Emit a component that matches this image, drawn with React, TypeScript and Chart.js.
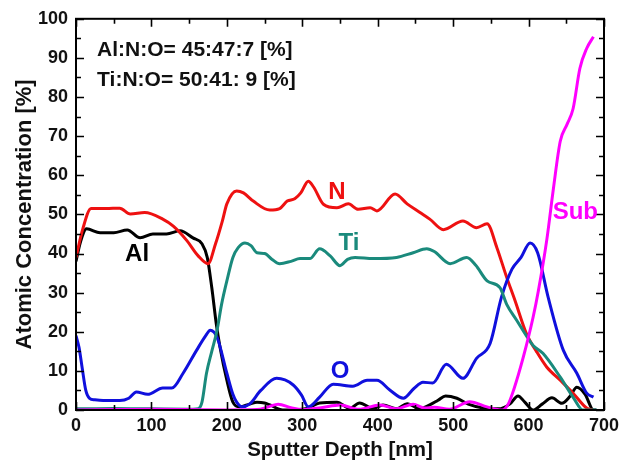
import React, { useEffect, useRef } from 'react';
import { Chart, registerables } from 'chart.js';

Chart.register(...registerables);

const FONT = '"Liberation Sans", Arial, Helvetica, sans-serif';

// ---- Data (sputter depth in nm, atomic concentration in %) ----
const nDepth = [0, 9, 20, 40, 58, 72, 91, 115, 129, 147, 162, 175, 185, 194, 200, 213, 222, 235, 257, 270, 280, 290, 298, 308, 315, 328, 346, 361, 374, 390, 399, 423, 439, 456, 469, 487, 513, 531, 545, 558, 571, 582, 597, 611, 624, 642, 659, 677, 685];
const nValues = [39, 46.3, 51.5, 51.5, 51.6, 50.1, 50.5, 48.8, 47, 43.3, 39.4, 37.4, 42.5, 48.3, 52.7, 56, 55.5, 53.4, 51.1, 51.5, 53.4, 54, 55.5, 58.5, 57, 52.6, 51.7, 52.7, 51.3, 51.7, 50.9, 55.2, 52.7, 50.5, 48.8, 46.1, 48.3, 46.6, 47.6, 41.5, 33.9, 28, 19.6, 14.8, 11, 7.6, 4.3, 0.5, 0];

const tiDepth = [0, 50, 100, 155, 162, 167, 173, 180, 187, 193, 200, 208, 215, 224, 232, 240, 250, 260, 270, 285, 297, 310, 323, 337, 350, 360, 370, 394, 425, 447, 465, 475, 496, 518, 530, 545, 562, 571, 584, 597, 606, 619, 642, 660, 672, 690];
const tiValues = [0.3, 0.4, 0.3, 0.2, 0.3, 2, 9.4, 15, 20.4, 27, 33, 39, 41.5, 42.7, 42, 40.2, 40, 38.5, 37.4, 38, 38.7, 38.7, 41.2, 39.4, 36.9, 38.5, 39, 38.7, 39, 40.2, 41.2, 40.5, 37.4, 39, 37, 33, 31.3, 27, 23, 19, 16.5, 14.5, 8.4, 3, 0, 0];

const alDepth = [0, 6, 14, 32, 50, 68, 85, 102, 120, 138, 155, 167, 174, 180, 186, 191, 200, 208, 217, 230, 240, 250, 257, 274, 306, 323, 346, 363, 376, 394, 407, 425, 439, 456, 469, 480, 490, 505, 520, 540, 560, 575, 586, 595, 606, 618, 631, 644, 655, 664, 675, 686, 690];
const alValues = [38, 43, 46.3, 45.3, 45.3, 46, 44, 45, 45, 45.8, 44, 42.5, 39, 31.3, 22, 16, 7.6, 2, 0.8, 1.5, 2, 1.8, 1.3, 0, 0.4, 1.8, 2, 0.4, 1.8, 0.4, 1.3, 0.3, 1.6, 0.3, 1.3, 2.5, 3.6, 3, 1.5, 0.5, 0.3, 1.5, 3.6, 2, 0, 1.5, 3.1, 1.7, 3.5, 5.8, 4, 0, 0];

const oDepth = [0, 4, 8, 13, 18, 25, 36, 58, 70, 80, 95, 115, 127, 142, 160, 172, 178, 187, 200, 208, 213, 220, 230, 245, 266, 288, 299, 308, 323, 341, 367, 386, 399, 416, 434, 448, 460, 473, 491, 513, 531, 549, 564, 578, 590, 602, 612, 626, 646, 664, 677, 686];
const oValues = [19, 16, 11, 5, 3, 2.6, 2.4, 2.4, 3, 4.6, 4, 5.6, 5.6, 9.4, 15.3, 19, 20.4, 18.6, 9.4, 4, 2, 0.8, 1.5, 5, 8.1, 6.4, 3.8, 0.8, 3.3, 6.6, 6.1, 7.6, 7.6, 5.1, 3, 5.5, 7.1, 6.9, 11.7, 8.1, 13.2, 17, 28.8, 36, 39, 42.7, 40.2, 28.8, 15.3, 9.4, 4.3, 3.3];

const subDepth = [0, 50, 100, 200, 240, 255, 268, 285, 300, 325, 350, 375, 403, 425, 447, 462, 475, 495, 522, 545, 565, 573, 580, 593, 606, 613, 624, 633, 642, 651, 659, 668, 677, 686];
const subValues = [0, 0.1, 0.2, 0, 0.1, 0.8, 1.5, 0.6, 0.1, 0.6, 1.3, 0.2, 1.3, 0.3, 1.5, 0.5, 0.7, 0.2, 2.1, 0.8, 0, 1.5, 5, 13.5, 23.7, 30.5, 43.3, 56.7, 68.7, 73, 77, 87.3, 92.4, 95.4];

const xTickValues = [0, 100, 200, 300, 400, 500, 600, 700];
const yTickValues = [0, 10, 20, 30, 40, 50, 60, 70, 80, 90, 100];

const ratioLines = ['Al:N:O= 45:47:7 [%]', 'Ti:N:O= 50:41: 9 [%]'];
const seriesNames = ['Sub', 'Ti', 'O', 'N', 'Al'];
const seriesColors = ['#ff00ff', '#1a8a7c', '#1010dd', '#ee1111', '#000000'];

// label placement (data coords)
const labelAnchors: Record<string, [number, number]> = {
  Al: [81, 39.7],
  N: [346, 55.7],
  Ti: [362, 42.5],
  O: [350, 9.9],
  Sub: [662, 50.4],
};
const ratioAnchor: [number, number] = [28, 92.1];

const toPoints = (xs: number[], ys: number[]) => xs.map((x, i) => ({ x, y: ys[i] }));

const framePlugin = {
  id: 'framePlugin',
  afterDatasetsDraw(chart: any) {
    const { ctx, chartArea: a, scales } = chart;
    const xs = scales.x;
    const ys = scales.y;
    ctx.save();
    ctx.strokeStyle = '#000';
    ctx.lineWidth = 2;
    ctx.strokeRect(a.left, a.top, a.right - a.left, a.bottom - a.top);
    ctx.lineWidth = 1.6;
    ctx.beginPath();
    for (let v = 0; v <= 700; v += 50) {
      const px = Math.round(xs.getPixelForValue(v)) + 0.5;
      const len = v % 100 === 0 ? 8 : 5;
      ctx.moveTo(px, a.bottom);
      ctx.lineTo(px, a.bottom - len);
      ctx.moveTo(px, a.top);
      ctx.lineTo(px, a.top + len);
    }
    for (let v = 0; v <= 100; v += 5) {
      const py = Math.round(ys.getPixelForValue(v)) + 0.5;
      const len = v % 10 === 0 ? 8 : 5;
      ctx.moveTo(a.left, py);
      ctx.lineTo(a.left + len, py);
      ctx.moveTo(a.right, py);
      ctx.lineTo(a.right - len, py);
    }
    ctx.stroke();

    // ratio annotations
    ctx.fillStyle = '#111';
    ctx.font = `bold 21px ${FONT}`;
    ctx.textAlign = 'left';
    ctx.textBaseline = 'middle';
    const rx = xs.getPixelForValue(ratioAnchor[0]);
    const ry = ys.getPixelForValue(ratioAnchor[1]);
    ratioLines.forEach((t, i) => ctx.fillText(t, rx, ry + i * 30));

    // series labels
    ctx.textAlign = 'center';
    ctx.font = `bold 24px ${FONT}`;
    seriesNames.forEach((name, i) => {
      const [lx, ly] = labelAnchors[name];
      ctx.fillStyle = seriesColors[i];
      ctx.fillText(name, xs.getPixelForValue(lx), ys.getPixelForValue(ly));
    });
    ctx.restore();
  },
};

export default function App() {
  const ref = useRef<HTMLCanvasElement | null>(null);

  useEffect(() => {
    document.body.style.margin = '0';
    const canvas = ref.current;
    if (!canvas) return;
    const series = [
      toPoints(subDepth, subValues),
      toPoints(tiDepth, tiValues),
      toPoints(oDepth, oValues),
      toPoints(nDepth, nValues),
      toPoints(alDepth, alValues),
    ];
    const chart = new Chart(canvas, {
      type: 'line',
      data: {
        datasets: series.map((pts, i) => ({
          label: seriesNames[i],
          data: pts,
          borderColor: seriesColors[i],
          backgroundColor: seriesColors[i],
          borderWidth: 3,
          pointRadius: 0,
          fill: false,
          cubicInterpolationMode: 'monotone' as const,
        })),
      },
      options: {
        responsive: false,
        animation: false,
        events: [],
        layout: { padding: { top: 17, right: 25, left: 0, bottom: 0 } },
        plugins: {
          legend: { display: false },
          tooltip: { enabled: false },
        },
        scales: {
          x: {
            type: 'linear',
            min: 0,
            max: 700,
            afterFit: (s: any) => { s.height = 53; },
            afterBuildTicks: (s: any) => { s.ticks = xTickValues.map((v) => ({ value: v })); },
            ticks: { color: '#111', font: { family: FONT, size: 18, weight: 'bold' }, padding: 5, maxRotation: 0 },
            grid: { display: false, drawTicks: false },
            border: { display: false },
            title: { display: true, text: 'Sputter Depth [nm]', color: '#111', font: { family: FONT, size: 20.5, weight: 'bold' }, padding: { top: 0, bottom: 0 } },
          },
          y: {
            type: 'linear',
            min: 0,
            max: 100,
            afterFit: (s: any) => { s.width = 76; },
            afterBuildTicks: (s: any) => { s.ticks = yTickValues.map((v) => ({ value: v })); },
            ticks: { color: '#111', font: { family: FONT, size: 18, weight: 'bold' }, padding: 8 },
            grid: { display: false, drawTicks: false },
            border: { display: false },
            title: { display: true, text: 'Atomic Concentration [%]', color: '#111', font: { family: FONT, size: 22, weight: 'bold' }, padding: { top: 12, bottom: 0 } },
          },
        },
      },
      plugins: [framePlugin],
    });
    return () => chart.destroy();
  }, []);

  return (
    <div style={{ width: 629, height: 463 }}>
      <canvas ref={ref} width={629} height={463} />
    </div>
  );
}
